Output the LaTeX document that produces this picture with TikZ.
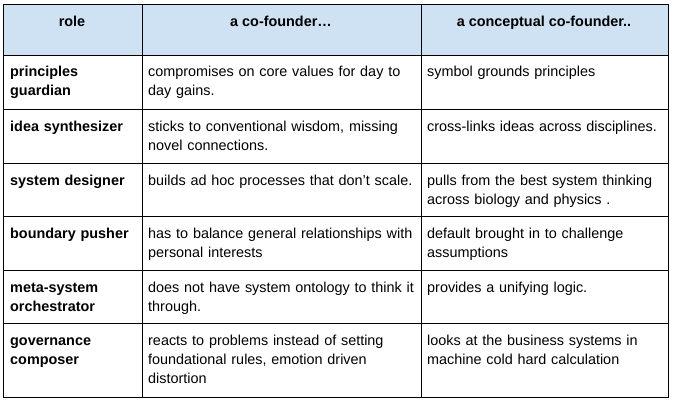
\documentclass[tikz,border=0pt]{standalone}
\usepackage{fontspec}
\setmainfont{Liberation Sans}
\definecolor{headblue}{HTML}{CFE2F3}

\begin{document}
\begin{tikzpicture}[x=1pt,y=-1pt,
	cell/.style={anchor=base west, align=left, inner sep=0pt, text width=300pt, font=\fontsize{14.4}{19}\selectfont},
	rolecell/.style={cell, text width=125pt, font=\fontsize{14.4}{19}\selectfont\bfseries},
	headcell/.style={anchor=base, inner sep=0pt, font=\fontsize{14.4}{19}\selectfont\bfseries}]
\useasboundingbox (0,0) rectangle (674,404);
% header area
\path [fill=headblue] (3,4) rectangle (668,55);
	% grid lines
	\draw (3,4) rectangle (668,397);
	\foreach \x in {142,421}
		\draw (\x,4) -- (\x,397);
	\foreach \y in {55,109,163,216,270,323}
		\draw (3,\y) -- (668,\y);
	% header
	\node[headcell] (hrole) at (72,27) {role};
	\node[headcell] (hco) at (281,27) {a co-founder…};
	\node[headcell] (hcc) at (544,27) {a conceptual co-founder..};
	% roles
	\node[rolecell] (r1) at (10,77) {principles\\guardian};
	\node[rolecell] (r2) at (10,131) {idea synthesizer};
	\node[rolecell] (r3) at (10,185) {system designer};
	\node[rolecell] (r4) at (10,238) {boundary pusher};
	\node[rolecell] (r5) at (10,292) {meta-system\\orchestrator};
	\node[rolecell] (r6) at (10,345) {governance\\composer};
	% a co-founder
	\node[cell] (c1) at (148,77) {compromises on core values for day to\\day gains.};
	\node[cell] (c2) at (148,131) {sticks to conventional wisdom, missing\\novel connections.};
	\node[cell] (c3) at (148,185) {builds ad hoc processes that don’t scale.};
	\node[cell] (c4) at (148,238) {has to balance general relationships with\\personal interests};
	\node[cell] (c5) at (148,292) {does not have system ontology to think it\\through.};
	\node[cell] (c6) at (148,345) {reacts to problems instead of setting\\foundational rules, emotion driven\\distortion};
	% a conceptual co-founder
	\node[cell] (k1) at (427,77) {symbol grounds principles};
	\node[cell] (k2) at (427,131) {cross-links ideas across disciplines.};
	\node[cell] (k3) at (427,185) {pulls from the best system thinking\\across biology and physics .};
	\node[cell] (k4) at (427,238) {default brought in to challenge\\assumptions};
	\node[cell] (k5) at (427,292) {provides a unifying logic.};
	\node[cell] (k6) at (427,345) {looks at the business systems in\\machine cold hard calculation};
\end{tikzpicture}
\end{document}
